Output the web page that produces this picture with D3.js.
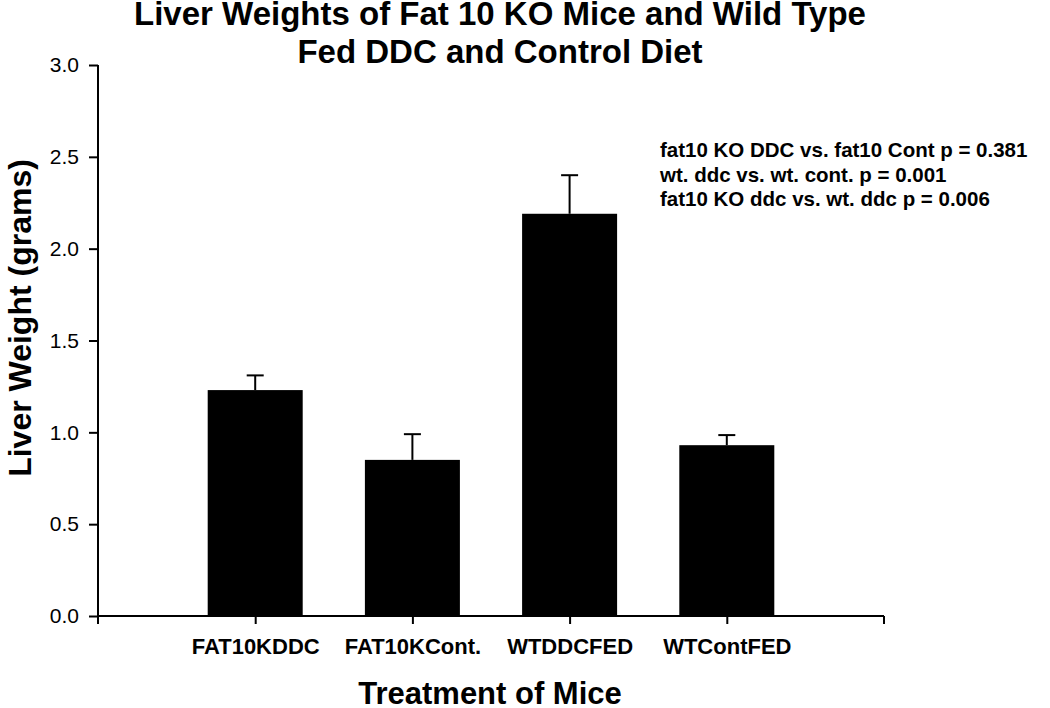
<!DOCTYPE html>
<html>
<head>
<meta charset="utf-8">
<script src="https://cdn.jsdelivr.net/npm/d3@7"></script>
<style>
  html, body { margin: 0; padding: 0; background: #fff; }
  svg { display: block; }
  text { font-family: "Liberation Sans", Arial, sans-serif; fill: #000; }
</style>
</head>
<body>
<svg id="chart" width="1050" height="708"></svg>
<script>
const categories = ["FAT10KDDC", "FAT10KCont.", "WTDDCFED", "WTContFED"];
const means = [1.23, 0.85, 2.19, 0.93];
const errors = [0.08, 0.14, 0.21, 0.055];
const yTicks = [0.0, 0.5, 1.0, 1.5, 2.0, 2.5, 3.0];
const titleLines = ["Liver Weights of Fat 10 KO Mice and Wild Type", "Fed DDC and Control Diet"];
const statLines = [
  "fat10 KO DDC vs. fat10 Cont p = 0.381",
  "wt. ddc vs. wt. cont. p = 0.001",
  "fat10 KO ddc vs. wt. ddc p = 0.006"
];

const svg = d3.select("#chart");
const x0 = 98, x1 = 884, yBottom = 616, yTop = 65;

const step = (x1 - x0) / (categories.length + 1);
const xc = d3.scalePoint().domain(categories).range([x0 + step, x1 - step]);
const barW = 95;

const y = d3.scaleLinear().domain([0, 3]).range([yBottom, yTop]);

// bars
svg.append("g").selectAll("rect").data(categories).join("rect")
  .attr("x", d => xc(d) - barW / 2)
  .attr("width", barW)
  .attr("y", (d, i) => y(means[i]))
  .attr("height", (d, i) => y(0) - y(means[i]))
  .attr("fill", "#000");

// error bars (upper only)
const eg = svg.append("g").attr("stroke", "#000").attr("stroke-width", 2);
categories.forEach((c, i) => {
  eg.append("line").attr("x1", xc(c)).attr("x2", xc(c))
    .attr("y1", y(means[i])).attr("y2", y(means[i] + errors[i]));
  eg.append("line").attr("x1", xc(c) - 8.5).attr("x2", xc(c) + 8.5)
    .attr("y1", y(means[i] + errors[i])).attr("y2", y(means[i] + errors[i]));
});

// y axis
const yAxis = d3.axisLeft(y).tickValues(yTicks).tickFormat(d3.format(".1f")).tickSize(9).tickPadding(10);
const gy = svg.append("g").attr("transform", `translate(${x0},0)`).call(yAxis);
gy.select(".domain").remove();
gy.selectAll(".tick line").attr("stroke", "#000").attr("stroke-width", 2);
gy.selectAll(".tick text").style("font-size", "21px").style("font-family", "Liberation Sans, Arial, sans-serif");
svg.append("line").attr("x1", x0).attr("x2", x0).attr("y1", yTop).attr("y2", yBottom + 8)
  .attr("stroke", "#000").attr("stroke-width", 2);

// x axis
const xAxis = d3.axisBottom(xc).tickSize(8).tickPadding(14);
const gx = svg.append("g").attr("transform", `translate(0,${yBottom})`).call(xAxis);
gx.select(".domain").remove();
gx.selectAll(".tick line").attr("stroke", "#000").attr("stroke-width", 2);
gx.selectAll(".tick text").style("font-size", "22px").style("font-weight", "bold")
  .style("font-family", "Liberation Sans, Arial, sans-serif");
svg.append("line").attr("x1", x0).attr("x2", x1).attr("y1", yBottom).attr("y2", yBottom)
  .attr("stroke", "#000").attr("stroke-width", 2);
svg.append("line").attr("x1", x1).attr("x2", x1).attr("y1", yBottom).attr("y2", yBottom + 8)
  .attr("stroke", "#000").attr("stroke-width", 2);

// titles
svg.append("g").selectAll("text").data(titleLines).join("text")
  .attr("x", 500).attr("y", (d, i) => 25 + i * 38)
  .attr("text-anchor", "middle")
  .style("font-size", "33px").style("font-weight", "bold")
  .text(d => d);

svg.append("text").attr("x", 490).attr("y", 704)
  .attr("text-anchor", "middle").style("font-size", "31px").style("font-weight", "bold")
  .text("Treatment of Mice");

svg.append("text").attr("transform", "translate(31,318) rotate(-90)")
  .attr("text-anchor", "middle").style("font-size", "32px").style("font-weight", "bold")
  .text("Liver Weight (grams)");

svg.append("g").selectAll("text").data(statLines).join("text")
  .attr("x", 660).attr("y", (d, i) => 157 + i * 24.5)
  .style("font-size", "20.5px").style("font-weight", "bold")
  .text(d => d);
</script>
</body>
</html>
